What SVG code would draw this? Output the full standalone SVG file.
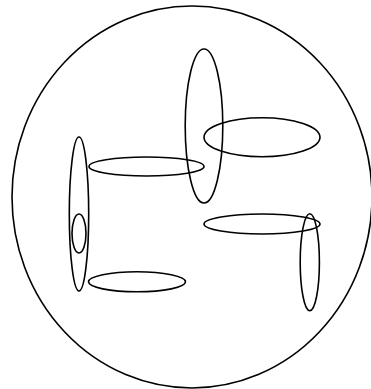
<svg xmlns="http://www.w3.org/2000/svg" width="371" height="389" viewBox="0 0 371 389">
<style>
ellipse { fill: none; stroke: #000; stroke-width: 1.6; }
</style>
<rect width="371" height="389" fill="#fff"/>
<g id="outer"><ellipse cx="192" cy="197" rx="180" ry="191"/></g>
<g id="n1"><ellipse cx="79" cy="214" rx="9.7" ry="77"/></g>
<g id="n2"><ellipse cx="79" cy="233.5" rx="7" ry="19.5"/></g>
<g id="n3"><ellipse cx="146.5" cy="166.5" rx="57.5" ry="9.5"/></g>
<g id="n4"><ellipse cx="137" cy="281.8" rx="48.5" ry="10"/></g>
<g id="n5"><ellipse cx="204" cy="126" rx="18.8" ry="77"/></g>
<g id="n6"><ellipse cx="262" cy="137.2" rx="58" ry="19.5"/></g>
<g id="n7"><ellipse cx="262" cy="224" rx="58" ry="10"/></g>
<g id="n8"><ellipse cx="309.8" cy="262.2" rx="9.6" ry="48.5"/></g>
<g id="connectors"></g>
</svg>
